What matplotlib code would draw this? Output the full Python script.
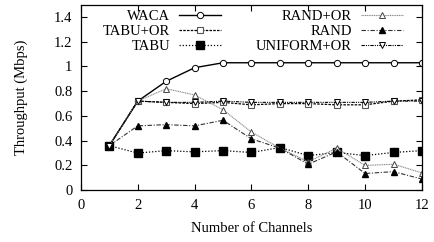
import matplotlib
matplotlib.use("Agg")
import matplotlib.pyplot as plt
from matplotlib.ticker import FormatStrFormatter

# dados
canais = [1, 2, 3, 4, 5, 6, 7, 8, 9, 10, 11, 12]
waca = [0.36, 0.72, 0.88, 0.99, 1.03, 1.03, 1.03, 1.03, 1.03, 1.03, 1.03, 1.03]
tabu_or = [0.36, 0.72, 0.71, 0.70, 0.71, 0.69, 0.70, 0.70, 0.69, 0.69, 0.72, 0.73]
tabu = [0.36, 0.30, 0.32, 0.31, 0.32, 0.305, 0.345, 0.28, 0.305, 0.28, 0.305, 0.32]
rand_or = [0.36, 0.72, 0.82, 0.77, 0.65, 0.47, 0.34, 0.23, 0.34, 0.20, 0.21, 0.14]
rand = [0.36, 0.52, 0.53, 0.52, 0.565, 0.415, 0.34, 0.21, 0.31, 0.135, 0.15, 0.09]
uniform_or = [0.36, 0.72, 0.71, 0.71, 0.72, 0.71, 0.71, 0.71, 0.71, 0.71, 0.72, 0.72]

plt.rcParams["font.family"] = ["Liberation Serif", "DejaVu Serif"]
plt.rcParams["font.size"] = 10.5

fig = plt.figure(figsize=(4.35, 2.42), dpi=100)
ax = fig.add_axes([0.186, 0.214, 0.784, 0.767])

ax.plot(canais, waca, color="black", lw=1.0, ls="-", marker="o", ms=4.5,
        mfc="white", mec="black", mew=0.7, label="WACA")
ax.plot(canais, tabu_or, color="black", lw=0.9, ls=(0, (2, 1)), marker="s", ms=5,
        mfc="white", mec="#555555", mew=0.8, label="TABU+OR")
ax.plot(canais, tabu, color="black", lw=0.9, ls=(0, (1, 1.5)), marker="s", ms=5.5,
        mfc="black", mec="black", label="TABU")
ax.plot(canais, rand_or, color="#888888", lw=0.8, ls=(0, (1, 0.6)), marker="^", ms=4.5,
        mfc="white", mec="#444444", mew=0.7, label="RAND+OR")
ax.plot(canais, rand, color="#333333", lw=0.8, ls=(0, (4, 1.5, 1, 1.5)), marker="^", ms=4,
        mfc="black", mec="black", label="RAND")
ax.plot(canais, uniform_or, color="black", lw=0.8, ls=(0, (3, 1, 1, 1, 1, 1)), marker="v", ms=4,
        mfc="white", mec="black", mew=0.7, label="UNIFORM+OR")

ax.set_xlim(0, 12)
ax.set_ylim(0, 1.5)
ax.set_xticks(range(0, 13, 2))
ax.set_yticks([0, 0.2, 0.4, 0.6, 0.8, 1.0, 1.2, 1.4])
ax.yaxis.set_major_formatter(FormatStrFormatter("%g"))
ax.tick_params(direction="in", top=True, right=True, length=4, width=0.8, labelsize=10.5)
ax.tick_params(axis="x", pad=6)
ax.tick_params(axis="y", pad=6)
for s in ax.spines.values():
    s.set_linewidth(0.9)

ax.set_xlabel("Number of Channels", fontsize=10.5, labelpad=7.5)
ax.set_ylabel("Throughput (Mbps)", fontsize=10.5, labelpad=19)

ax.legend(ncol=2, loc="upper right", bbox_to_anchor=(0.944, 0.972), frameon=False,
          markerfirst=False, fontsize=10.5, handlelength=2.9, columnspacing=2.4,
          labelspacing=0.12, handletextpad=0.6, borderpad=0.0, borderaxespad=0.0)

fig.savefig("out.png", dpi=100)
